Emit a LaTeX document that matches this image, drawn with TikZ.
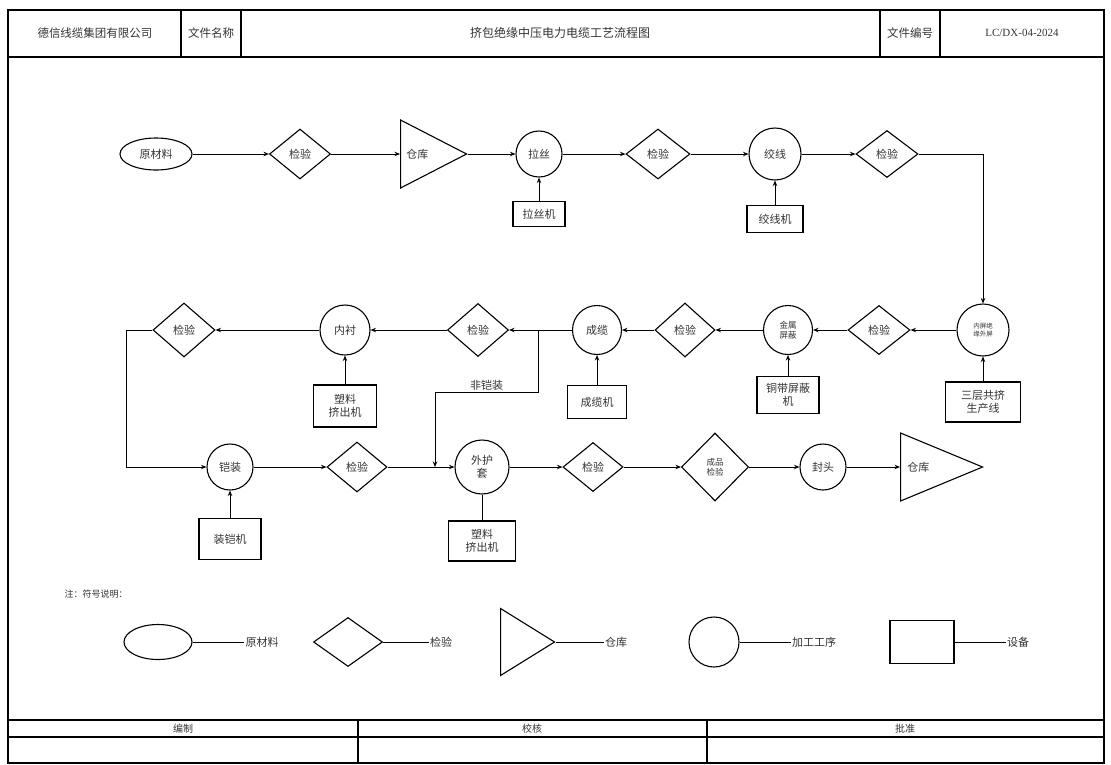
\documentclass[tikz,border=0pt]{standalone}
\usepackage{fontspec}
\setmainfont{Noto Sans CJK SC}
\newfontfamily\codefont{Liberation Serif}
\usetikzlibrary{shapes.geometric,arrows.meta}

\begin{document}
\begin{tikzpicture}[x=1pt, y=-1pt, line width=0.9pt, >={Stealth[length=5.5pt,width=4.5pt]},
  every node/.style={font=\fontsize{11}{13}\selectfont, text=black!80, inner sep=1pt},
  raw/.style={ellipse, draw, line width=1.1pt, minimum width=72pt, minimum height=32pt},
  check/.style={diamond, draw, line width=1.1pt, minimum width=61pt, minimum height=50pt},
  % triangle: minimum width is its base, minimum height its depth to the apex
  store/.style={isosceles triangle, isosceles triangle stretches, draw, line width=1.1pt, anchor=west, minimum width=68pt, minimum height=66pt},
  proc/.style={circle, draw, line width=1.1pt, minimum size=48pt, align=center},
  machine/.style={rectangle, draw, line width=1.1pt, align=center, minimum width=56pt, minimum height=27pt},
  small/.style={font=\fontsize{8.5}{10}\selectfont},
  tiny/.style={font=\fontsize{6.5}{8}\selectfont},
  frame/.style={line width=1.3pt}]
  \useasboundingbox (0,0) rectangle (1111,764);
  % title block
  \draw[frame] (8,10) rectangle (1104,763);
  \draw[frame] (8,57) -- (1104,57);
  \foreach \c in {181,241,880,940} \draw[frame] (\c,10) -- (\c,57);
  \node[font=\fontsize{11.5}{13}\selectfont] (company) at (95,33) {德信线缆集团有限公司};
  \node[font=\fontsize{11.5}{13}\selectfont] (fname) at (211,33) {文件名称};
  \node[font=\fontsize{12}{14}\selectfont] (title) at (560,33) {挤包绝缘中压电力电缆工艺流程图};
  \node[font=\fontsize{11.5}{13}\selectfont] (fno) at (910,33) {文件编号};
  \node[font=\codefont\fontsize{11}{13}\selectfont] (code) at (1022,33) {LC/DX-04-2024};

  % row 1
  \node[raw] (raw) at (156,154) {原材料};
  \node[check] (c1) at (300,154) {检验};
  \node[store, label={[anchor=west,xshift=5pt]west:仓库}] (wh1) at (400,154) {};
  \node[proc, minimum size=46pt] (p1) at (539,154) {拉丝};
  \node[machine, minimum width=52pt, minimum height=25pt] (m1) at (539,214) {拉丝机};
  \node[check, minimum width=64pt] (c2) at (658,154) {检验};
  \node[proc, minimum size=52pt] (p2) at (775,154) {绞线};
  \node[machine] (m2) at (775,219) {绞线机};
  \node[check, minimum width=62pt, minimum height=47pt] (c3) at (887,154) {检验};
  \draw[->] (raw) -- (c1);
  \draw[->] (c1.east) -- (wh1.west);
  \draw[->] (wh1.apex) -- (p1.west);
  \draw[->] (m1) -- (p1);
  \draw[->] (p1) -- (c2);
  \draw[->] (c2) -- (p2);
  \draw[->] (m2) -- (p2);
  \draw[->] (p2) -- (c3);

  % row 2, right to left
  \node[proc, minimum size=52pt, tiny] (p3) at (983,330) {内屏绝\\缘外屏};
  \node[machine, minimum width=75pt, minimum height=40pt] (m3) at (983,402) {三层共挤\\生产线};
  \node[check, minimum width=62pt, minimum height=49pt] (c4) at (879,330) {检验};
  \node[proc, minimum size=49pt, small] (p4) at (788,330) {金属\\屏蔽};
  \node[machine, minimum width=62pt, minimum height=37pt] (m4) at (788,395) {铜带屏蔽\\机};
  \node[check, minimum width=60pt, minimum height=54pt] (c5) at (685,330) {检验};
  \node[proc, minimum size=49pt] (p5) at (597,330) {成缆};
  \node[machine, minimum width=59pt, minimum height=33pt] (m5) at (597,402) {成缆机};
  \coordinate (j) at (538,330);
  \node[check, minimum width=61pt, minimum height=53pt] (c6) at (478,330) {检验};
  \node[proc, minimum size=50pt] (p6) at (345,330) {内衬};
  \node[machine, minimum width=63pt, minimum height=42pt] (m6) at (345,406) {塑料\\挤出机};
  \node[check, minimum width=62pt, minimum height=54pt] (c7) at (184,330) {检验};
  \draw[->] (c3.east) -| (p3.north);
  \draw[->] (m3) -- (p3);
  \draw[->] (p3) -- (c4);
  \draw[->] (c4) -- (p4);
  \draw[->] (m4) -- (p4);
  \draw[->] (p4) -- (c5);
  \draw[->] (c5) -- (p5);
  \draw[->] (m5) -- (p5);
  \draw (p5) -- (j);
  \draw[->] (j) -- (c6);
  \draw[->] (c6) -- (p6);
  \draw[->] (m6) -- (p6);
  \draw[->] (p6) -- (c7);

  % row 3
  \node[proc, minimum size=46pt] (p7) at (230,467) {铠装};
  \node[machine, minimum width=62pt, minimum height=41pt] (m7) at (230,539) {装铠机};
  \node[check, minimum width=60pt, minimum height=50pt] (c8) at (357,467) {检验};
  \coordinate (k) at (435,467);
  \node[proc, minimum size=54pt] (p8) at (482,467) {外护\\套};
  \node[machine, minimum width=67pt, minimum height=40pt] (m8) at (482,541) {塑料\\挤出机};
  \node[check, minimum width=60pt, minimum height=49pt] (c9) at (593,467) {检验};
  \node[check, minimum width=67pt, minimum height=68pt, small, align=center] (c10) at (715,467) {成品\\检验};
  \node[proc, minimum size=46pt] (p9) at (823,467) {封头};
  \node[store, minimum height=82pt, label={[anchor=west,xshift=6pt]west:仓库}] (wh2) at (900,467) {};
  \draw[->] (c7.west) -- ++(-26,0) |- (p7.west);
  \draw[->] (j) -- ++(0,62) -| node[above, pos=0.25] (nonarmor) {非铠装} (k);
  \draw[->] (m7) -- (p7);
  \draw[->] (p7) -- (c8);
  \draw[->] (c8) -- (p8);
  \draw (m8) -- (p8);
  \draw[->] (p8) -- (c9);
  \draw[->] (c9) -- (c10);
  \draw[->] (c10) -- (p9);
  \draw[->] (p9.east) -- (wh2.west);

  % legend
  \node[font=\fontsize{9}{11}\selectfont] (note) at (96,594) {注：符号说明：};
  \node[raw, minimum width=68pt, minimum height=35pt] (lraw) at (158,642) {};
  \node (lrawt) at (262,642) {原材料};
  \node[check, minimum width=69pt, minimum height=49pt] (lchk) at (348,642) {};
  \node (lchkt) at (441,642) {检验};
  \node[store, minimum width=67pt, minimum height=54pt] (lwh) at (500,642) {};
  \node (lwht) at (616,642) {仓库};
  \node[proc, minimum size=50pt] (lproc) at (714,642) {};
  \node (lproct) at (814,642) {加工工序};
  \node[machine, minimum width=64pt, minimum height=43pt] (lmach) at (922,642) {};
  \node (lmacht) at (1018,642) {设备};
  \draw (lraw) -- (lrawt);
  \draw (lchk) -- (lchkt);
  \draw (lwh.apex) -- (lwht.west);
  \draw (lproc) -- (lproct);
  \draw (lmach) -- (lmacht);

  % sign-off rows
  \draw[frame] (8,720) -- (1104,720);
  \draw[frame] (8,737) -- (1104,737);
  \foreach \c in {358,707} \draw[frame] (\c,720) -- (\c,763);
  \node[font=\fontsize{10}{12}\selectfont] (drawn) at (183,728.5) {编制};
  \node[font=\fontsize{10}{12}\selectfont] (checked) at (532,728.5) {校核};
  \node[font=\fontsize{10}{12}\selectfont] (approved) at (905,728.5) {批准};
\end{tikzpicture}
\end{document}
